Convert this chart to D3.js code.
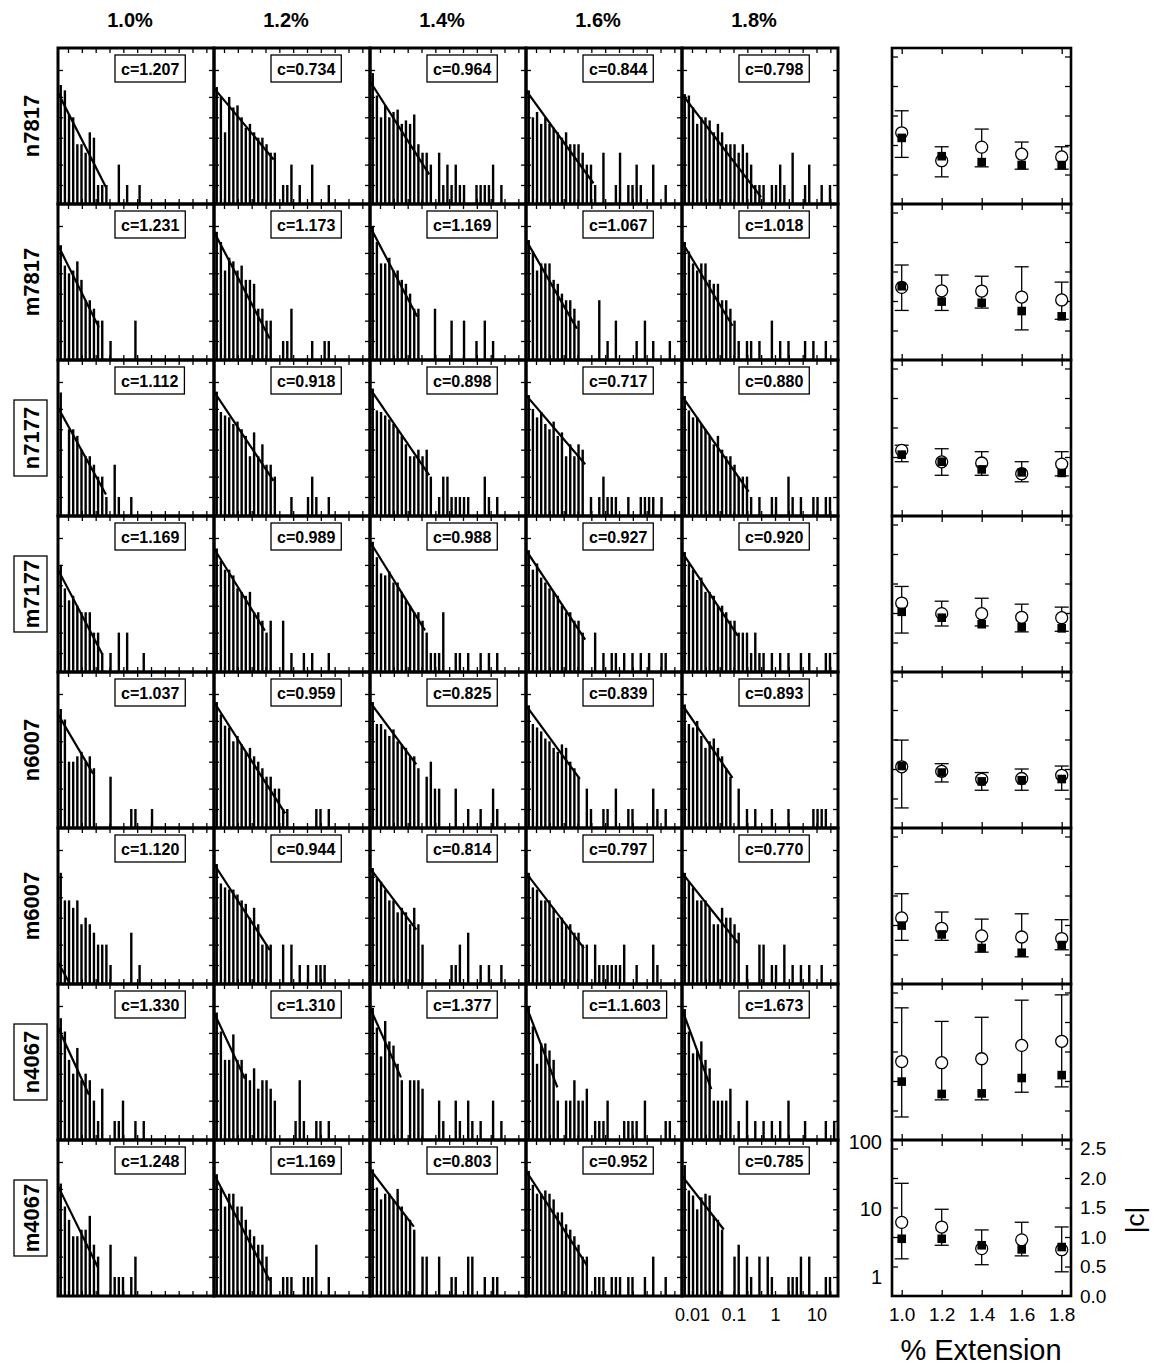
<!DOCTYPE html>
<html><head><meta charset="utf-8">
<script src="https://cdn.jsdelivr.net/npm/d3@7/dist/d3.min.js"></script>
<style>
body{margin:0;background:#fff}
text{font-family:"Liberation Sans",Arial,Helvetica,sans-serif;fill:#000}
</style>
</head><body>
<svg id="chart" width="1154" height="1365" xmlns="http://www.w3.org/2000/svg"></svg>
<script>
// ---------------- data ----------------
const extLabels = ["1.0%","1.2%","1.4%","1.6%","1.8%"];
const extValues = [1.0,1.2,1.4,1.6,1.8];
const sampleNames = ["n7817","m7817","n7177","m7177","n6007","m6007","n4067","m4067"];
const boxedNames = ["n7177","m7177","n4067","m4067"];
const histXTickValues = [0.01,0.1,1,10];
const histXTickLabels = ["0.01","0.1","1","10"];
const histYTickLabels = [1,10,100];
const cTickValues = [0.0,0.5,1.0,1.5,2.0,2.5];

const cText = [
 ["1.207","0.734","0.964","0.844","0.798"],
 ["1.231","1.173","1.169","1.067","1.018"],
 ["1.112","0.918","0.898","0.717","0.880"],
 ["1.169","0.989","0.988","0.927","0.920"],
 ["1.037","0.959","0.825","0.839","0.893"],
 ["1.120","0.944","0.814","0.797","0.770"],
 ["1.330","1.310","1.377","1.1.603","1.673"],
 ["1.248","1.169","0.803","0.952","0.785"]
];
const cValues = [
 [1.207,0.734,0.964,0.844,0.798],
 [1.231,1.173,1.169,1.067,1.018],
 [1.112,0.918,0.898,0.717,0.880],
 [1.169,0.989,0.988,0.927,0.920],
 [1.037,0.959,0.825,0.839,0.893],
 [1.120,0.944,0.814,0.797,0.770],
 [1.330,1.310,1.377,1.603,1.673],
 [1.248,1.169,0.803,0.952,0.785]
];
const squareValues = [
 [1.12,0.81,0.71,0.66,0.66],
 [1.25,0.99,0.97,0.83,0.74],
 [1.04,0.92,0.79,0.74,0.73],
 [1.02,0.92,0.81,0.76,0.74],
 [1.05,0.94,0.79,0.81,0.83],
 [0.99,0.84,0.61,0.53,0.66],
 [0.99,0.78,0.79,1.05,1.10],
 [0.97,0.97,0.86,0.79,0.83]
];
const errHigh = [
 [1.58,0.97,1.27,1.05,0.97],
 [1.61,1.44,1.42,1.58,1.32],
 [1.20,1.14,1.09,0.92,1.09],
 [1.45,1.20,1.25,1.15,1.10],
 [1.49,1.09,0.94,1.00,1.05],
 [1.53,1.22,1.10,1.19,1.09],
 [2.24,2.01,2.08,2.37,2.46],
 [1.91,1.47,1.12,1.25,1.17]
];
const errLow = [
 [0.79,0.46,0.63,0.59,0.59],
 [0.84,0.84,0.88,0.51,0.69],
 [0.92,0.69,0.69,0.58,0.68],
 [0.66,0.78,0.78,0.68,0.69],
 [0.34,0.78,0.64,0.64,0.64],
 [0.74,0.74,0.54,0.46,0.58],
 [0.39,0.68,0.68,0.81,0.90],
 [0.63,0.86,0.53,0.68,0.41]
];
// fitted power-law line: count at left edge, and bin index where the line stops
const lineStart = [
 [23,27,34,25,22],
 [26,41,49,31,29],
 [21,36,40,32,31],
 [17,35,44,33,31],
 [25,38,38,34,35],
 [1.1,31,27,23,23],
 [24,40,47,51,45],
 [22,33,39,37,31]
];
const lineEndBin = [
 [10.9,13.7,13.6,15.6,18.4],
 [9.2,12.8,10.7,11.6,11.5],
 [10.9,13.7,13.6,13.6,15.4],
 [9.9,11.6,12.6,13.6,12.8],
 [7.8,16.5,10.5,12.3,11.5],
 [3,12.8,10.5,13.3,12.8],
 [6.8,6.8,6.8,6.9,6.4],
 [9,12.8,9.9,14.1,9.4]
];
// histogram counts per 0.1-dex bin (bin 0 = leftmost)
const hist_n7817 = [
 [30,25,11,10,4,4,3,6,5,1,1,1,0,0,2,0,1,0,0,1],
 [28,20,6,20,14,15,10,7,8,6,5,5,4,3,3,0,1,1,2,0,1,0,0,2,0,0,0,1],
 [45,21,10,15,10,12,13,8,9,8,11,4,3,3,2,0,3,1,2,1,2,1,1,0,0,1,1,1,1,2,0,1],
 [25,10,12,8,10,8,7,6,5,6,4,4,4,3,2,2,1,0,3,0,0,1,3,0,1,1,2,1,0,0,2,0,0,1],
 [22,21,14,8,10,10,9,6,8,6,4,4,4,3,4,3,2,1,1,1,0,1,1,2,1,0,3,0,0,1,2,0,0,1,0,1]
];
const hist_m7817 = [
 [26,13,10,11,15,8,4,4,3,2,2,0,1,0,0,0,0,0,2],
 [41,29,11,17,15,11,13,8,8,7,3,3,2,2,0,0,1,1,3,0,0,0,0,1,0,0,1,1],
 [49,29,14,14,17,11,11,8,7,5,3,3,0,0,0,3,0,0,0,2,0,0,2,0,0,1,0,2,0,1],
 [31,21,11,14,14,14,8,7,5,4,4,3,2,0,0,0,0,4,0,1,0,2,0,0,0,0,1,0,2,0,1,0,0,0,1],
 [29,21,14,11,14,14,8,7,7,4,4,3,2,1,0,1,1,0,1,0,0,2,0,1,0,1,0,0,0,1,0,1,0,0,1]
];
const hist_n7177 = [
 [35,0,10,10,8,5,4,4,3,2,2,1,0,3,1,0,0,1],
 [36,18,16,15,12,13,10,8,4,9,4,6,3,3,2,0,0,0,1,0,0,0,1,2,1,0,0,1],
 [40,19,18,16,14,12,10,8,6,4,4,5,4,5,2,0,1,2,2,1,1,1,1,1,0,0,0,2,1,0,1],
 [32,20,15,18,12,10,13,8,9,4,6,4,6,5,0,1,0,1,2,1,1,1,0,0,1,0,0,1,1,1,1,0,1],
 [31,19,15,15,12,10,8,6,8,5,4,4,3,2,2,2,1,0,1,0,0,1,1,0,0,2,1,0,1,0,0,1,1,0,1,1]
];
const hist_m7177 = [
 [20,9,6,7,5,4,4,4,2,2,1,0,1,0,2,0,2,0,0,0,1],
 [35,23,17,17,14,9,8,7,8,4,4,3,2,3,0,0,3,0,1,0,0,1,0,1,0,0,0,1],
 [44,26,15,14,16,11,11,8,6,5,4,4,3,2,1,1,1,4,0,0,1,1,0,1,0,0,1,0,1,0,1],
 [33,17,21,13,11,9,8,7,5,4,4,3,3,2,0,0,2,0,1,0,1,1,0,1,0,1,0,1,0,1,0,0,1,1],
 [31,21,17,12,13,8,8,7,5,5,4,3,3,2,2,2,1,2,1,1,0,1,0,1,0,1,0,0,1,0,1,0,0,0,1,1]
];
const hist_n6007 = [
 [30,21,5,5,6,7,5,6,4,0,0,0,3,0,0,0,0,1,1,0,0,0,1],
 [38,25,17,16,10,12,9,7,8,6,5,4,3,3,2,2,1,1,0,0,0,0,0,0,1,1,0,1],
 [38,18,18,15,12,15,10,9,8,6,6,4,0,3,5,2,2,0,0,0,2,0,0,1,0,0,1,0,0,2,1],
 [34,18,16,14,11,10,8,7,9,8,5,4,3,0,2,1,0,0,1,1,0,2,0,0,1,1,0,0,0,0,2,1,0,1],
 [35,18,16,20,12,8,10,11,8,6,4,3,0,2,0,1,0,1,0,0,0,1,0,0,0,1,0,0,0,0,0,1,1,1,1]
];
const hist_m6007 = [
 [23,9,9,7,9,4,5,4,3,2,2,2,1,0,0,0,0,3,0,1],
 [31,16,14,13,13,11,9,8,5,7,4,2,2,2,0,0,2,0,2,0,1,0,1,0,1,1,1],
 [27,19,17,13,9,9,6,7,6,4,7,4,2,0,0,0,0,0,0,1,1,2,0,3,0,0,1,0,1,0,0,1],
 [23,14,13,9,9,9,7,5,5,4,4,3,3,2,2,0,2,1,1,1,1,1,1,2,0,0,1,0,0,0,2,1],
 [23,17,14,9,9,9,7,4,4,7,5,5,4,3,0,1,0,0,2,2,0,1,1,0,2,0,1,0,1,0,1,0,0,1]
];
const hist_n4067 = [
 [33,21,8,5,12,4,5,4,2,1,3,0,0,1,1,2,0,0,1,0,1],
 [40,21,8,8,19,8,8,5,4,6,3,4,4,3,2,0,0,0,0,1,4,1,0,0,1,1,0,1],
 [47,24,9,30,15,13,7,4,0,4,4,4,3,0,0,0,2,1,0,0,2,1,0,2,1,0,1,0,0,2,0,1],
 [49,25,7,14,14,11,8,2,0,2,2,4,2,2,3,0,1,1,1,2,0,0,0,1,1,1,1,0,2,0,0,0,0,1,1],
 [45,21,10,11,15,8,6,2,2,2,2,3,0,1,0,2,0,1,0,1,0,1,0,1,0,2,0,0,0,1,0,0,0,0,1,0,1]
];
const hist_m4067 = [
 [24,11,7,4,4,5,5,8,3,2,0,0,3,1,1,1,0,1,2],
 [33,21,11,17,17,11,11,7,5,4,3,3,2,1,0,0,1,1,1,0,0,1,1,1,3,0,0,1],
 [39,21,14,17,17,14,20,11,8,7,5,0,2,2,0,0,2,0,0,1,1,0,0,2,2,0,0,1,0,1,1],
 [37,23,17,17,19,17,14,9,9,6,5,4,3,2,2,0,1,1,1,0,1,1,1,0,1,1,0,0,1,0,2,0,0,1],
 [45,19,16,10,15,17,16,8,7,5,0,0,2,3,0,2,1,0,2,0,2,1,0,0,0,1,1,1,2,0,2,0,0,0,1,1]
];
const histograms = [hist_n7817,hist_m7817,hist_n7177,hist_m7177,hist_n6007,hist_m6007,hist_n4067,hist_m4067];

// ---------------- layout ----------------
const svg = d3.select("#chart");
const gridLeft = 58, gridTop = 48, S = 156;
const rLeft = 892, RW = 179;
const binLog0 = -2.175, binStep = 0.1;

const x = d3.scaleLog().domain([Math.pow(10,-2.241), Math.pow(10,1.518)]).range([0,S]);
const y = d3.scaleLog().domain([0.524,105.6]).range([S,0]);
const xr = d3.scaleLinear().domain([0.9515,1.8465]).range([0,RW]);
const yr = d3.scaleLinear().domain([0,2.644]).range([S,0]);
const binX = i => x(Math.pow(10, binLog0 + binStep*i));

svg.append("defs").append("clipPath").attr("id","hclip")
  .append("rect").attr("x",0).attr("y",0).attr("width",S).attr("height",S);

function cleanAxis(sel){ sel.select(".domain").remove(); sel.selectAll("line").attr("stroke","#000").attr("stroke-width",1.3); }

const xTickVals = d3.range(0,11).map(k => Math.pow(10,-2 + k/3));
const yTickVals = [1,2,5,10,20,50];

// column headers
extLabels.forEach((t,j)=>{
  svg.append("text").attr("x", gridLeft + j*S + S/2 - 6).attr("y", 27)
    .attr("text-anchor","middle").attr("font-size",20).attr("font-weight","bold").text(t);
});

// row labels
sampleNames.forEach((name,r)=>{
  const cy = gridTop + r*S + S/2;
  const g = svg.append("g").attr("transform",`translate(31,${cy}) rotate(-90)`);
  g.append("text").attr("text-anchor","middle").attr("dy","0.37em")
    .attr("font-size",22).attr("font-weight","bold").text(name);
  if (boxedNames.includes(name)) {
    g.append("rect").attr("x",-38).attr("y",-17).attr("width",76).attr("height",33)
      .attr("fill","none").attr("stroke","#000").attr("stroke-width",1.3);
  }
});

// histogram panels
histograms.forEach((rowHist,r)=>{
  rowHist.forEach((counts,j)=>{
    const g = svg.append("g").attr("transform",`translate(${gridLeft+j*S},${gridTop+r*S})`);
    const inner = g.append("g").attr("clip-path","url(#hclip)");
    inner.selectAll("rect.bar").data(counts.map((n,i)=>({n,i})).filter(d=>d.n>0))
      .join("rect").attr("class","bar")
      .attr("x", d=>binX(d.i)-1.2).attr("width",2.4)
      .attr("y", d=>y(d.n)).attr("height", d=>S - y(d.n)).attr("fill","#000");
    const x0 = x.domain()[0];
    const xe = Math.pow(10, binLog0 + binStep*lineEndBin[r][j]);
    const c = cValues[r][j];
    const y0 = lineStart[r][j];
    const ye = y0*Math.pow(xe/x0, -c);
    inner.append("line").attr("x1",x(x0)).attr("y1",y(y0)).attr("x2",x(xe)).attr("y2",y(ye))
      .attr("stroke","#000").attr("stroke-width",2.2);
    // ticks
    g.append("g").call(d3.axisLeft(y).tickValues(yTickVals).tickSize(-5).tickFormat("")).call(cleanAxis);
    g.append("g").attr("transform",`translate(${S},0)`).call(d3.axisRight(y).tickValues(yTickVals).tickSize(-5).tickFormat("")).call(cleanAxis);
    g.append("g").call(d3.axisTop(x).tickValues(xTickVals).tickSize(-5).tickFormat("")).call(cleanAxis);
    g.append("g").attr("transform",`translate(0,${S})`).call(d3.axisBottom(x).tickValues(xTickVals).tickSize(-5).tickFormat("")).call(cleanAxis);
    g.append("rect").attr("width",S).attr("height",S).attr("fill","none").attr("stroke","#000").attr("stroke-width",3);
    // c label box
    const t = g.append("text").attr("x",63).attr("y",27).attr("font-size",16).attr("font-weight","bold")
      .text("c=" + cText[r][j]);
    const tw = t.node().getComputedTextLength();
    g.append("rect").attr("x",57).attr("y",7).attr("width",tw+12).attr("height",27)
      .attr("fill","none").attr("stroke","#000").attr("stroke-width",1.3);
    if (r === histograms.length-1 && j === 4) {
      const ax = g.append("g").attr("transform",`translate(0,${S})`)
        .call(d3.axisBottom(x).tickValues(histXTickValues).tickSize(0).tickPadding(12)
          .tickFormat((d,i)=>histXTickLabels[i]));
      ax.select(".domain").remove();
      ax.selectAll("text").attr("font-size",18).attr("font-family","Liberation Sans, Arial, sans-serif");
    }
  });
});

// histogram count labels (left of right panel, bottom row)
{
  const ay = svg.append("g").attr("transform",`translate(882,${gridTop+7*S})`)
    .call(d3.axisLeft(y).tickValues(histYTickLabels).tickSize(0).tickPadding(0).tickFormat(d3.format("d")));
  ay.select(".domain").remove();
  ay.selectAll("text").attr("font-size",20).attr("font-family","Liberation Sans, Arial, sans-serif");
}

// right |c| panels
sampleNames.forEach((name,r)=>{
  const g = svg.append("g").attr("transform",`translate(${rLeft},${gridTop+r*S})`);
  const yt = [0.5,1,1.5,2,2.5];
  g.append("g").call(d3.axisLeft(yr).tickValues(yt).tickSize(-6).tickFormat("")).call(cleanAxis);
  g.append("g").attr("transform",`translate(${RW},0)`).call(d3.axisRight(yr).tickValues(yt).tickSize(-6).tickFormat("")).call(cleanAxis);
  g.append("g").call(d3.axisTop(xr).tickValues(extValues).tickSize(-6).tickFormat("")).call(cleanAxis);
  g.append("g").attr("transform",`translate(0,${S})`).call(d3.axisBottom(xr).tickValues(extValues).tickSize(-6).tickFormat("")).call(cleanAxis);
  extValues.forEach((e,j)=>{
    const cx = xr(e);
    const lo = yr(errLow[r][j]), hi = yr(errHigh[r][j]);
    g.append("line").attr("x1",cx).attr("x2",cx).attr("y1",lo).attr("y2",hi).attr("stroke","#000").attr("stroke-width",1.3);
    g.append("line").attr("x1",cx-7).attr("x2",cx+7).attr("y1",lo).attr("y2",lo).attr("stroke","#000").attr("stroke-width",1.3);
    g.append("line").attr("x1",cx-7).attr("x2",cx+7).attr("y1",hi).attr("y2",hi).attr("stroke","#000").attr("stroke-width",1.3);
    g.append("circle").attr("cx",cx).attr("cy",yr(cValues[r][j])).attr("r",6)
      .attr("fill","#fff").attr("stroke","#000").attr("stroke-width",1.3);
    g.append("rect").attr("x",cx-4.3).attr("y",yr(squareValues[r][j])-4.3).attr("width",8.6).attr("height",8.6).attr("fill","#000");
  });
  g.append("rect").attr("width",RW).attr("height",S).attr("fill","none").attr("stroke","#000").attr("stroke-width",2.6);
  if (r === sampleNames.length-1) {
    const ar = g.append("g").attr("transform",`translate(${RW},0)`)
      .call(d3.axisRight(yr).tickValues(cTickValues).tickSize(0).tickPadding(9).tickFormat(d3.format(".1f")));
    ar.select(".domain").remove();
    ar.selectAll("text").attr("font-size",19).attr("font-family","Liberation Sans, Arial, sans-serif");
    const ab = g.append("g").attr("transform",`translate(0,${S})`)
      .call(d3.axisBottom(xr).tickValues(extValues).tickSize(0).tickPadding(12).tickFormat(d3.format(".1f")));
    ab.select(".domain").remove();
    ab.selectAll("text").attr("font-size",19).attr("font-family","Liberation Sans, Arial, sans-serif");
  }
});

svg.append("text").attr("x",981).attr("y",1360).attr("text-anchor","middle").attr("font-size",29).text("% Extension");
svg.append("text").attr("transform","translate(1144,1220) rotate(-90)").attr("text-anchor","middle")
  .attr("font-size",26).text("|c|");
</script>
</body></html>
